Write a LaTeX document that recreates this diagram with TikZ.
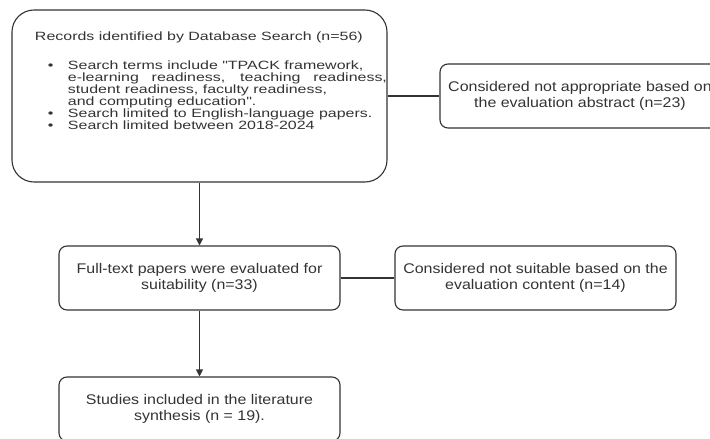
\documentclass[tikz,border=0pt]{standalone}
\usepackage{fontspec}
\setmainfont{Liberation Sans}
\newfontfamily\recfont{Liberation Sans}[FakeStretch=1.33]
\newfontfamily\boxfont{Liberation Sans}[FakeStretch=1.14]
\usetikzlibrary{arrows.meta}
\definecolor{inkgray}{HTML}{333333}
\newcommand{\bul}{\makebox[33pt][l]{\hspace{13pt}\textbullet}}

\begin{document}
\begin{tikzpicture}[x=1pt,y=-1pt,line width=1.1pt,inkgray,
  stage/.style={draw,rounded corners=8pt,minimum width=281pt,minimum height=64pt,
    inner sep=0pt,align=center,font=\boxfont\fontsize{14}{15.5}\selectfont},
  records/.style={draw,rounded corners=22pt,minimum width=375pt,minimum height=172pt,inner sep=0pt},
  flow/.style={-{Triangle[length=7pt,width=7pt]}}]
  \useasboundingbox (0,0) rectangle (710,439);
  \node[records] (recs) at (199.5,96) {\hbox{\hspace*{23pt}\begin{minipage}[c][172pt][t]{352pt}
    \recfont\fontsize{12}{12}\selectfont
    \vspace*{22pt}
    \noindent Records identified by Database Search (n=56)\par
    \vspace{17pt}
    \noindent\hangindent=33pt\hangafter=1\bul Search terms include "TPACK framework,\newline
    e-learning readiness, teaching readiness,\linebreak
    student readiness, faculty readiness,\newline
    and computing education".\par
    \noindent\hangindent=33pt\hangafter=1\bul Search limited to English-language papers.\par
    \noindent\hangindent=33pt\hangafter=1\bul Search limited between 2018-2024\par
  \end{minipage}}};
  \node[stage,minimum width=280pt] (abst) at (580,96) {Considered not appropriate based on\\the evaluation abstract (n=23)};
  \node[stage] (full) at (199.5,278) {Full-text papers were evaluated for\\suitability (n=33)};
  \node[stage] (notsuit) at (535.5,278) {Considered not suitable based on the\\evaluation content (n=14)};
  \node[stage] (incl) at (199.5,409) {Studies included in the literature\\synthesis (n = 19).};
  \draw[flow] (recs) -- (full);
  \draw[flow] (full) -- (incl);
  \draw (recs) -- (abst);
  \draw (full) -- (notsuit);
\end{tikzpicture}
\end{document}
